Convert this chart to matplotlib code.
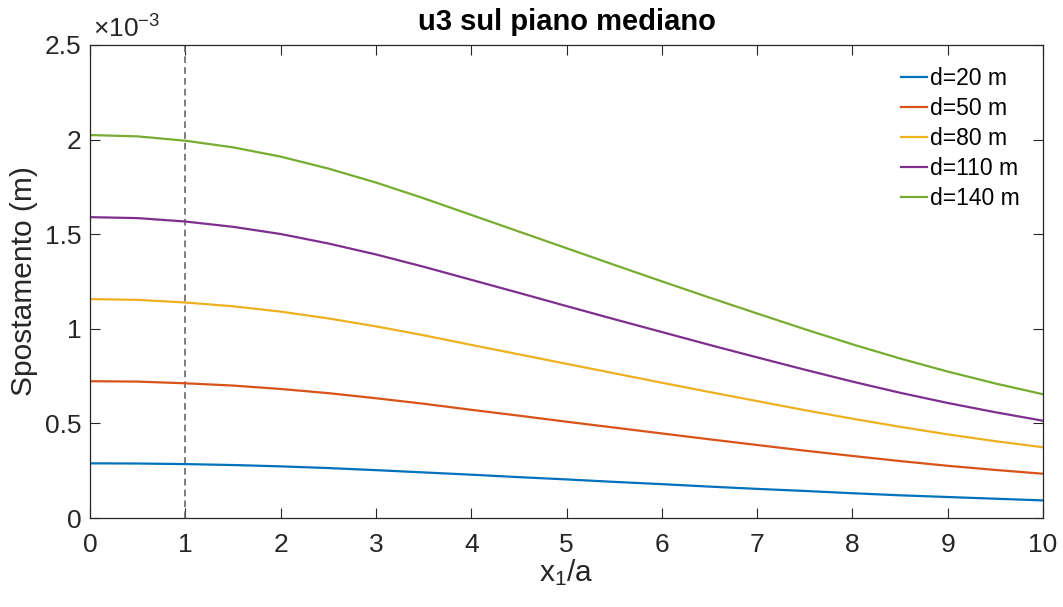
import matplotlib
matplotlib.use('Agg')
import matplotlib.pyplot as plt
from matplotlib.ticker import FuncFormatter

plt.rcParams['font.family'] = ['Liberation Sans', 'DejaVu Sans']
plt.rcParams['mathtext.fontset'] = 'custom'
plt.rcParams['mathtext.rm'] = 'Liberation Sans'
plt.rcParams['mathtext.it'] = 'Liberation Sans'

# x1/a
x = [0, 0.5, 1, 1.5, 2, 2.5, 3, 3.5, 4, 4.5, 5, 5.5, 6, 6.5, 7, 7.5, 8, 8.5, 9, 9.5, 10]

# spostamento u3 (in 1e-3 m)
u_d20 = [0.289, 0.288, 0.285, 0.280, 0.273, 0.264, 0.253, 0.241, 0.229, 0.216, 0.204,
         0.191, 0.179, 0.166, 0.154, 0.143, 0.131, 0.120, 0.111, 0.102, 0.093]
u_d50 = [0.723, 0.721, 0.712, 0.700, 0.682, 0.660, 0.633, 0.604, 0.572, 0.541, 0.509,
         0.478, 0.447, 0.416, 0.386, 0.356, 0.328, 0.301, 0.276, 0.254, 0.234]
u_d80 = [1.157, 1.153, 1.139, 1.119, 1.091, 1.055, 1.013, 0.966, 0.915, 0.865, 0.815,
         0.765, 0.715, 0.666, 0.618, 0.570, 0.525, 0.482, 0.442, 0.406, 0.374]
u_d110 = [1.590, 1.585, 1.567, 1.539, 1.501, 1.451, 1.393, 1.328, 1.259, 1.190, 1.120,
          1.051, 0.983, 0.915, 0.849, 0.784, 0.721, 0.662, 0.608, 0.559, 0.514]
u_d140 = [2.024, 2.017, 1.994, 1.959, 1.910, 1.847, 1.773, 1.690, 1.602, 1.514, 1.426,
          1.338, 1.251, 1.165, 1.081, 0.998, 0.918, 0.843, 0.774, 0.711, 0.654]

labels = ['d=20 m', 'd=50 m', 'd=80 m', 'd=110 m', 'd=140 m']
colors = ['#0072BD', '#D95319', '#EDB120', '#7E2F8E', '#77AC30']
serie = [u_d20, u_d50, u_d80, u_d110, u_d140]

fig = plt.figure(figsize=(10.63, 6.07), dpi=100)
ax = fig.add_axes([0.0847, 0.1466, 0.8965, 0.7793])

ax.axvline(1, color='#666666', ls='--', lw=1.2, dashes=(4, 2.5))   # bordo fondazione
for u, lab, c in zip(serie, labels, colors):
    ax.plot(x, [v * 1e-3 for v in u], color=c, lw=1.6, label=lab)

ax.set_xlim(0, 10)
ax.set_ylim(0, 2.5e-3)
ax.set_xticks(range(0, 11))
ax.set_yticks([0, 0.5e-3, 1e-3, 1.5e-3, 2e-3, 2.5e-3])
ax.yaxis.set_major_formatter(FuncFormatter(lambda v, p: '%g' % round(v * 1e3, 3)))

ax.tick_params(direction='in', top=True, right=True, length=7, width=0.8,
               labelsize=19, colors='#262626')
ax.tick_params(axis='x', pad=11)
ax.tick_params(axis='y', pad=6)
for s in ax.spines.values():
    s.set_color('#262626')
    s.set_linewidth(0.9)

ax.set_title('u3 sul piano mediano', fontsize=21, fontweight='bold', pad=11)
ax.set_ylabel('Spostamento (m)', fontsize=21.5, color='#262626', labelpad=5)
ax.set_xlabel('x$_1$/a', fontsize=21.5, color='#262626', labelpad=0)
ax.text(0.003, 1.006, r'$\times10^{\mathregular{-3}}$', transform=ax.transAxes,
        fontsize=19, color='#262626', ha='left', va='bottom')

ax.legend(loc='upper right', frameon=False, fontsize=16.5, handlelength=1.15,
          handletextpad=0.1, labelspacing=0.3, bbox_to_anchor=(0.997, 0.997))

fig.savefig('out.png', dpi=100)
